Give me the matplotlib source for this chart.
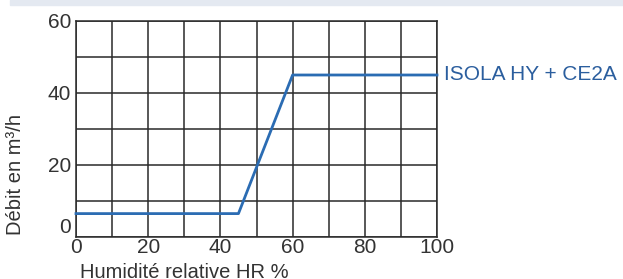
import matplotlib.pyplot as plt
from matplotlib.patches import Rectangle

plt.rcParams['font.family'] = ['Liberation Sans', 'DejaVu Sans']

hr = [0, 45, 60, 100]
debit = [6.5, 6.5, 45, 45]
serie = "ISOLA HY + CE2A"
xticks = [0, 20, 40, 60, 80, 100]
yticks = [0, 20, 40, 60]

fig = plt.figure(figsize=(6.23, 2.79), dpi=100)
fig.patches.append(Rectangle((10/623, 1 - 5/279), 1, 5/279, transform=fig.transFigure,
                             color='#e4e9f1', zorder=0))
ax = fig.add_axes([76/623, 1 - 237/279, 361/623, 216/279])

ax.plot(hr, debit, color='#2b6cb3', lw=2, zorder=3, clip_on=False)
ax.text(102, debit[-1], serie, color='#2b5e9e', fontsize=15, va='center', ha='left')

ax.set_xlim(0, 100)
ax.set_ylim(0, 60)
ax.set_xticks(range(0, 101, 10))
ax.set_xticklabels([str(v) if v in xticks else '' for v in range(0, 101, 10)])
ax.set_yticks(range(0, 61, 10))
ax.set_yticklabels([str(v) if v in yticks else '' for v in range(0, 61, 10)])
ax.grid(True, color='#2a2a2a', lw=1.1)
ax.tick_params(length=0, labelsize=15, colors='#333333')
ax.tick_params(axis='x', pad=1)
ax.tick_params(axis='y', pad=3.5)
ax.get_yticklabels()[0].set_va('bottom')
for s in ax.spines.values():
    s.set_color('#2a2a2a')
    s.set_linewidth(1.1)

ax.set_ylabel("Débit en m³/h", fontsize=14.5, color='#333333')
ax.yaxis.set_label_coords(-0.141, 0.29)
ax.set_xlabel("Humidité relative HR %", fontsize=14.5, color='#333333')
ax.xaxis.set_label_coords(0.3, -0.12)

fig.savefig('out.png', dpi=100)
